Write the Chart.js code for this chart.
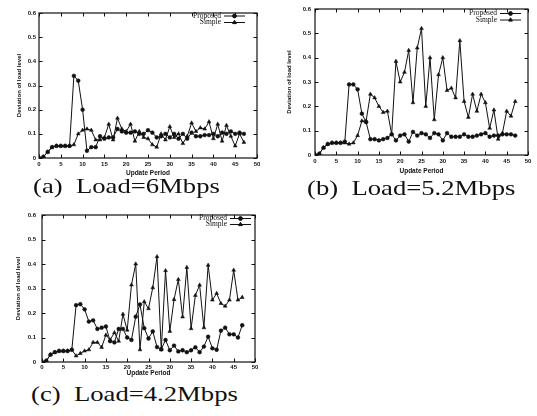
<!DOCTYPE html>
<html><head><meta charset="utf-8">
<script src="https://cdn.jsdelivr.net/npm/chart.js@4"></script>
<style>
html,body{margin:0;padding:0;background:#fff;width:537px;height:416px;overflow:hidden;}
.box{position:absolute;}
.cap{position:absolute;font-family:"Liberation Serif","Times New Roman",serif;font-size:21px;color:#111;white-space:pre;line-height:21px;transform:scaleX(1.27);transform-origin:0 0;}
</style></head><body>
<div class="box" style="left:0;top:0;width:265px;height:180px"><canvas id="ca"></canvas></div>
<div class="box" style="left:270px;top:0;width:267px;height:180px"><canvas id="cb"></canvas></div>
<div class="box" style="left:0;top:200px;width:265px;height:180px"><canvas id="cc"></canvas></div>
<div class="cap" style="left:33px;top:176px">(a)  Load=6Mbps</div>
<div class="cap" style="left:307px;top:178px">(b)  Load=5.2Mbps</div>
<div class="cap" style="left:31px;top:384px">(c)  Load=4.2Mbps</div>
<script>
const periods = [0,1,2,3,4,5,6,7,8,9,10,11,12,13,14,15,16,17,18,19,20,21,22,23,24,25,26,27,28,29,30,31,32,33,34,35,36,37,38,39,40,41,42,43,44,45,46,47];
const seriesNames = ['Proposed','Simple'];
const xTickLabels = ['0','5','10','15','20','25','30','35','40','45','50'];
const yTickLabels = ['0','0.1','0.2','0.3','0.4','0.5','0.6'];

const proposedA = [0,0.005,0.025,0.045,0.05,0.05,0.05,0.05,0.34,0.32,0.2,0.03,0.045,0.045,0.09,0.08,0.085,0.085,0.12,0.11,0.105,0.105,0.11,0.1,0.1,0.115,0.105,0.085,0.09,0.1,0.085,0.1,0.08,0.1,0.08,0.105,0.09,0.09,0.095,0.095,0.1,0.09,0.105,0.1,0.11,0.1,0.105,0.1];
const simpleA   = [0,0.005,0.025,0.045,0.05,0.05,0.05,0.05,0.055,0.1,0.115,0.12,0.115,0.075,0.075,0.085,0.14,0.075,0.165,0.12,0.11,0.14,0.07,0.11,0.085,0.08,0.055,0.045,0.1,0.075,0.13,0.085,0.1,0.06,0.09,0.145,0.11,0.125,0.12,0.15,0.08,0.14,0.07,0.135,0.09,0.05,0.1,0.065];

const proposedB = [0,0.005,0.03,0.045,0.05,0.05,0.05,0.055,0.29,0.29,0.27,0.17,0.135,0.065,0.065,0.06,0.065,0.07,0.085,0.06,0.08,0.085,0.055,0.095,0.08,0.09,0.085,0.07,0.09,0.085,0.06,0.09,0.075,0.075,0.075,0.085,0.075,0.075,0.08,0.085,0.09,0.075,0.08,0.08,0.085,0.085,0.085,0.08];
const simpleB   = [0,0.005,0.03,0.045,0.05,0.05,0.05,0.05,0.045,0.05,0.08,0.14,0.14,0.25,0.235,0.2,0.175,0.18,0.085,0.385,0.3,0.34,0.43,0.215,0.44,0.52,0.2,0.4,0.145,0.33,0.4,0.265,0.275,0.235,0.47,0.22,0.155,0.25,0.18,0.25,0.215,0.11,0.185,0.065,0.09,0.18,0.16,0.22];

const proposedC = [0,0.005,0.03,0.04,0.045,0.045,0.045,0.05,0.232,0.236,0.215,0.165,0.17,0.135,0.14,0.145,0.085,0.08,0.135,0.135,0.1,0.09,0.185,0.235,0.138,0.096,0.125,0.061,0.052,0.09,0.048,0.067,0.043,0.048,0.04,0.048,0.06,0.04,0.063,0.103,0.056,0.05,0.128,0.14,0.113,0.113,0.1,0.15];
const simpleC   = [0,0.005,0.03,0.04,0.045,0.045,0.045,0.05,0.025,0.035,0.045,0.05,0.08,0.08,0.06,0.11,0.09,0.12,0.085,0.195,0.13,0.315,0.4,0.05,0.246,0.218,0.303,0.43,0.05,0.373,0.125,0.255,0.337,0.184,0.386,0.136,0.272,0.314,0.14,0.395,0.253,0.28,0.239,0.228,0.253,0.375,0.253,0.264];

const INK = '#111';

const framePlugin = {
  id: 'frame',
  afterDatasetsDraw(chart) {
    const {ctx, chartArea: a, scales: {x, y}} = chart;
    ctx.save();
    ctx.strokeStyle = INK;
    ctx.lineWidth = 1.2;
    ctx.strokeRect(a.left, a.top, a.right - a.left, a.bottom - a.top);
    ctx.lineWidth = 1;
    const L = 3.5;
    ctx.beginPath();
    x.ticks.forEach(t => {
      const px = Math.round(x.getPixelForValue(t.value)) + 0.5;
      ctx.moveTo(px, a.bottom); ctx.lineTo(px, a.bottom - L);
      ctx.moveTo(px, a.top); ctx.lineTo(px, a.top + L);
    });
    y.ticks.forEach(t => {
      const py = Math.round(y.getPixelForValue(t.value)) + 0.5;
      ctx.moveTo(a.left, py); ctx.lineTo(a.left + L, py);
      ctx.moveTo(a.right, py); ctx.lineTo(a.right - L, py);
    });
    ctx.stroke();
    ctx.restore();
  }
};

const keyPlugin = {
  id: 'key',
  afterDraw(chart, args, o) {
    const {ctx} = chart;
    ctx.save();
    ctx.font = '7.5px "Liberation Serif", serif';
    ctx.textAlign = 'right';
    ctx.textBaseline = 'middle';
    chart.data.datasets.forEach((ds, i) => {
      const yy = o.rows[i];
      ctx.fillStyle = INK;
      ctx.fillText(ds.label, o.textRight, yy);
      ctx.strokeStyle = INK;
      ctx.lineWidth = 1;
      ctx.beginPath();
      ctx.moveTo(o.lineStart, yy); ctx.lineTo(o.lineEnd, yy);
      ctx.stroke();
      Chart.helpers.drawPoint(ctx, {pointStyle: ds.pointStyle, radius: ds.pointRadius, rotation: 0, borderWidth: 1}, (o.lineStart + o.lineEnd) / 2, yy);
    });
    ctx.restore();
  }
};

function makeChart(id, prop, simp, L) {
  const toPts = vals => periods.map((p, i) => ({x: p, y: vals[i]}));
  return new Chart(document.getElementById(id), {
    type: 'line',
    data: {
      datasets: [
        {label: seriesNames[0], data: toPts(prop), borderColor: INK, backgroundColor: INK, borderWidth: 1, pointStyle: 'circle', pointRadius: 1.9, pointBorderWidth: 0.5, tension: 0},
        {label: seriesNames[1], data: toPts(simp), borderColor: INK, backgroundColor: INK, borderWidth: 1, pointStyle: 'triangle', pointRadius: 2.2, pointBorderWidth: 0.5, tension: 0}
      ]
    },
    options: {
      responsive: true, maintainAspectRatio: false, animation: false,
      devicePixelRatio: 1,
      layout: {padding: {left: L.padLeft, top: L.padTop, right: L.padRight, bottom: 0}},
      plugins: {legend: {display: false}, tooltip: {enabled: false}, key: L.key},
      scales: {
        x: {
          type: 'linear', min: 0, max: 50,
          afterFit: s => { s.height = L.xHeight; },
          grid: {display: false, drawTicks: false},
          border: {display: false},
          ticks: {stepSize: 5, padding: L.xTickPad, color: INK, maxRotation: 0, autoSkip: false,
            font: {family: '"Liberation Sans", sans-serif', size: 6, weight: 'bold'},
            callback: (v) => xTickLabels[Math.round(v / 5)]},
          title: {display: true, text: 'Update Period', color: INK, padding: {top: 0, bottom: L.xTitlePad},
            font: {family: '"Liberation Sans", sans-serif', size: 6.5, weight: 'bold', lineHeight: 1.2}}
        },
        y: {
          type: 'linear', min: 0, max: 0.6,
          afterFit: s => { s.width = L.yWidth; },
          grid: {display: false, drawTicks: false},
          border: {display: false},
          ticks: {stepSize: 0.1, padding: L.yTickPad, color: INK, autoSkip: false,
            font: {family: '"Liberation Sans", sans-serif', size: 6, weight: 'bold'},
            callback: (v) => yTickLabels[Math.round(v * 10)]},
          title: {display: true, text: 'Deviation of load level', color: INK, padding: {top: L.yTitlePad, bottom: 0},
            font: {family: '"Liberation Sans", sans-serif', size: 6, weight: 'bold', lineHeight: 1.2}}
        }
      }
    },
    plugins: [framePlugin, keyPlugin]
  });
}

makeChart('ca', proposedA, simpleA, {
  padLeft: 14, padTop: 13, padRight: 8, yWidth: 25, xHeight: 22,
  xTickPad: 3, xTitlePad: 3, yTickPad: 3, yTitlePad: 2,
  key: {textRight: 221, lineStart: 224, lineEnd: 245, rows: [16, 22.5]}
});
makeChart('cb', proposedB, simpleB, {
  padLeft: 14, padTop: 9, padRight: 9, yWidth: 31, xHeight: 25,
  xTickPad: 3, xTitlePad: 4.5, yTickPad: 4, yTitlePad: 2,
  key: {textRight: 227, lineStart: 230, lineEnd: 251, rows: [13.5, 20]}
});
makeChart('cc', proposedC, simpleC, {
  padLeft: 14, padTop: 15, padRight: 10, yWidth: 28, xHeight: 18,
  xTickPad: 1.5, xTitlePad: 2.5, yTickPad: 6, yTitlePad: 0.5,
  key: {textRight: 227, lineStart: 230, lineEnd: 251, rows: [18.5, 24.5]}
});
</script>
</body></html>
